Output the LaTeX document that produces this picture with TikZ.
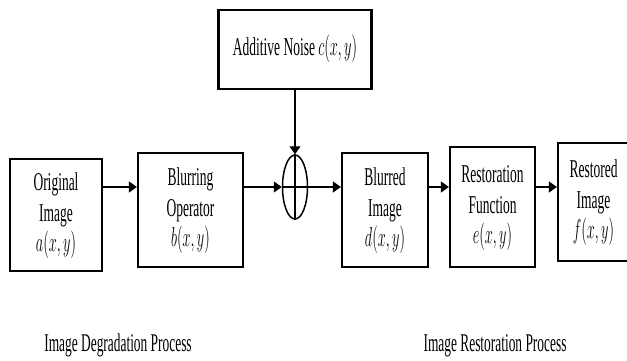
\documentclass[tikz,border=0pt]{standalone}
\usepackage{fontspec}
\setmainfont{Liberation Serif}
\usepackage{graphicx}
\usetikzlibrary{shapes.geometric,arrows.meta}
\newcommand{\tall}[2][13.5]{\scalebox{1}[1.9]{\fontsize{#1}{15.8}\selectfont\begin{tabular}{@{}c@{}}#2\end{tabular}}}
\begin{document}
\begin{tikzpicture}[x=1pt, y=-1pt,
	block/.style={draw, line width=2.2pt, inner sep=0pt},
	sum point/.style={draw, ellipse, line width=1.5pt, minimum width=25pt, minimum height=64pt, inner sep=0pt},
	flow/.style={line width=1.3pt, -{Triangle[length=8pt, width=11pt]}}]
	%\draw[help lines] (0,0) grid[step=20pt] (627,361);
	\useasboundingbox (0,0) rectangle (627,361);
		\node[block, minimum width=153pt, minimum height=79pt] (noise) at (295,49.5) {\tall{Additive Noise $c(x,y)$}};
		\node[block, minimum width=92pt, minimum height=112pt] (orig) at (56,215) {\tall{Original\\Image\\$a(x,y)$}};
		\node[block, minimum width=105pt, minimum height=114pt] (blur) at (190.5,210) {\tall{Blurring\\Operator\\$b(x,y)$}};
		\node[sum point] (sum) at (295,187) {};
		\node[block, minimum width=86pt, minimum height=114pt] (blurred) at (385,210) {\tall{Blurred\\Image\\$d(x,y)$}};
		\node[block, minimum width=85pt, minimum height=120pt] (restf) at (492.5,207) {\tall{Restoration\\Function\\$e(x,y)$}};
		\node[block, minimum width=71pt, minimum height=118pt] (restored) at (593.5,202) {\tall{Restored\\Image\\$f(x,y)$}};
		\draw[line width=1.3pt] (sum.north) -- (sum.south) (sum.west) -- (sum.east);
		\draw[flow] (noise.south) -- (sum.north);
		\draw[flow] (orig.east |- sum) -- (blur.west |- sum);
		\draw[flow] (blur.east |- sum) -- (sum.west);
		\draw[flow] (sum.east) -- (blurred.west |- sum);
		\draw[flow] (blurred.east |- sum) -- (restf.west |- sum);
		\draw[flow] (restf.east |- sum) -- (restored.west |- sum);
		\node (degr) at (118,345) {\tall[13.4]{Image Degradation Process}};
		\node (restp) at (495,345) {\tall[13.4]{Image Restoration Process}};
\end{tikzpicture}
\end{document}
